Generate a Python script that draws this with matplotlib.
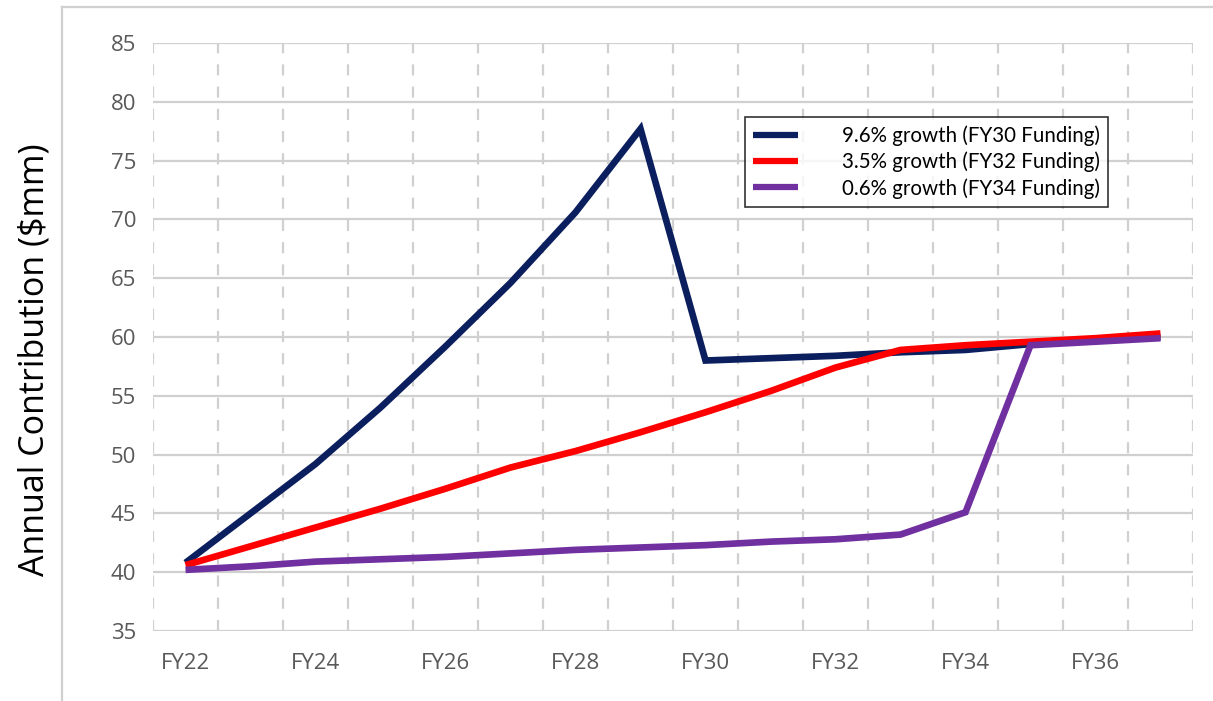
import matplotlib.pyplot as plt
from matplotlib.lines import Line2D

years = ['FY22', 'FY23', 'FY24', 'FY25', 'FY26', 'FY27', 'FY28', 'FY29',
         'FY30', 'FY31', 'FY32', 'FY33', 'FY34', 'FY35', 'FY36', 'FY37']
growth_96 = [40.8, 45.0, 49.2, 54.0, 59.2, 64.6, 70.6, 77.7,
             58.0, 58.2, 58.4, 58.7, 58.9, 59.4, 59.7, 60.0]
growth_35 = [40.6, 42.2, 43.8, 45.4, 47.1, 48.9, 50.3, 51.9,
             53.6, 55.4, 57.4, 58.9, 59.3, 59.6, 59.9, 60.3]
growth_06 = [40.2, 40.5, 40.9, 41.1, 41.3, 41.6, 41.9, 42.1,
             42.3, 42.6, 42.8, 43.2, 45.1, 59.3, 59.6, 59.9]
labels = ['9.6% growth (FY30 Funding)', '3.5% growth (FY32 Funding)',
          '0.6% growth (FY34 Funding)']
colors = ['#0B1F5E', '#FF0000', '#7030A0']
yticks = [35, 40, 45, 50, 55, 60, 65, 70, 75, 80, 85]

fig = plt.figure(figsize=(12.13, 7.01), dpi=100)
ax = fig.add_axes([153 / 1213, 1 - 631 / 701, 1040 / 1213, 588 / 701])

x = list(range(len(years)))
for ys, lab, c in zip([growth_96, growth_35, growth_06], labels, colors):
    ax.plot(x, ys, color=c, linewidth=4.8, label=lab, solid_capstyle='butt',
            solid_joinstyle='miter', zorder=3)

ax.set_xlim(-0.5, len(years) - 0.5)
ax.set_ylim(35, 85)
ax.set_yticks(yticks)
ax.set_xticks(x[::2])
ax.set_xticklabels(years[::2])
ax.tick_params(length=0, labelsize=16, labelcolor='#595959', pad=12)
ax.tick_params(axis='x', pad=16)
for t in ax.get_xticklabels() + ax.get_yticklabels():
    t.set_family('Open Sans')

# grid: solid horizontals, dashed verticals between categories
for v in yticks:
    ax.axhline(v, color='#D0D0D0', linewidth=1.6, zorder=1)
for b in range(len(years) + 1):
    ax.axvline(b - 0.5, color='#D0D0D0', linewidth=1.6, linestyle=(0, (5, 5)), zorder=1)
for s in ax.spines.values():
    s.set_visible(False)

ax.set_ylabel('Annual Contribution ($mm)', fontsize=24.5, family='Open Sans')
ax.yaxis.set_label_coords(-0.098, 0.462)

leg = ax.legend(loc='upper left', bbox_to_anchor=(592 / 1040, 1 - 74 / 588),
                frameon=True, fancybox=False, edgecolor='black',
                prop={'family': 'Lato', 'size': 14.8}, handlelength=2.2,
                handletextpad=2.1, borderpad=0.4, labelspacing=0.28,
                borderaxespad=0)
leg.get_frame().set_linewidth(1.2)
for h in leg.get_lines():
    h.set_linewidth(4.5)

# outer chart border (top and left)
fig.add_artist(Line2D([62 / 1213, 1], [1 - 7 / 701, 1 - 7 / 701],
                      color='#D0D0D0', linewidth=1.6, transform=fig.transFigure))
fig.add_artist(Line2D([62 / 1213, 62 / 1213], [0, 1 - 7 / 701],
                      color='#D0D0D0', linewidth=1.6, transform=fig.transFigure))

fig.savefig('out.png', dpi=100)
